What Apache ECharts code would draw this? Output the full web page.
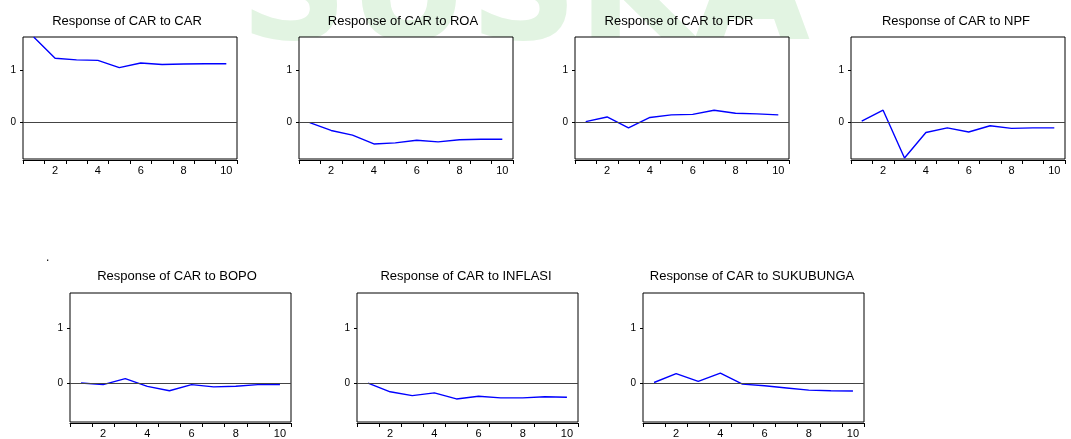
<!DOCTYPE html>
<html>
<head>
<meta charset="utf-8">
<script src="https://cdn.jsdelivr.net/npm/echarts@6/dist/echarts.min.js"></script>
<style>
  html, body { margin: 0; padding: 0; background: #fff; }
  #chart { width: 1071px; height: 439px; }
</style>
</head>
<body>
<div id="chart"></div>
<script>
// impulse response periods
const periods = ['1', '2', '3', '4', '5', '6', '7', '8', '9', '10'];
const yTicks = [0, 1];

const carToCar = [1.65, 1.24, 1.21, 1.20, 1.06, 1.15, 1.12, 1.13, 1.135, 1.135];
const carToRoa = [0.0, -0.15, -0.24, -0.41, -0.39, -0.34, -0.37, -0.33, -0.32, -0.32];
const carToFdr = [0.02, 0.11, -0.10, 0.10, 0.15, 0.16, 0.24, 0.18, 0.17, 0.15];
const carToNpf = [0.03, 0.24, -0.68, -0.19, -0.10, -0.18, -0.06, -0.11, -0.10, -0.10];
const carToBopo = [0.01, -0.02, 0.09, -0.05, -0.13, -0.02, -0.06, -0.05, -0.02, -0.02];
const carToInflasi = [0.01, -0.15, -0.22, -0.17, -0.28, -0.23, -0.26, -0.26, -0.24, -0.25];
const carToSukubunga = [0.02, 0.18, 0.04, 0.19, -0.01, -0.04, -0.08, -0.12, -0.13, -0.135];

const panels = [
  { title: 'Response of CAR to CAR', data: carToCar, left: 23, top: 37, w: 214, h: 122, tx: 127, ty: 15 },
  { title: 'Response of CAR to ROA', data: carToRoa, left: 299, top: 37, w: 214, h: 122, tx: 403, ty: 15 },
  { title: 'Response of CAR to FDR', data: carToFdr, left: 575, top: 37, w: 214, h: 122, tx: 679, ty: 15 },
  { title: 'Response of CAR to NPF', data: carToNpf, left: 851, top: 37, w: 214, h: 122, tx: 956, ty: 15 },
  { title: 'Response of CAR to BOPO', data: carToBopo, left: 70, top: 293, w: 221, h: 129, tx: 177, ty: 270 },
  { title: 'Response of CAR to INFLASI', data: carToInflasi, left: 357, top: 293, w: 221, h: 129, tx: 466, ty: 270 },
  { title: 'Response of CAR to SUKUBUNGA', data: carToSukubunga, left: 643, top: 293, w: 221, h: 129, tx: 752, ty: 270 }
];

const font = '"Liberation Sans", Arial, sans-serif';

const option = {
  animation: false,
  backgroundColor: '#fff',
  graphic: [
    // faint watermark behind the panels
    { type: 'text', z: -10, left: 240, top: -75,
      style: { text: 'SUSKA', font: 'bold 150px "DejaVu Sans"', fill: '#e2f4e2' } },
    { type: 'text', left: 46, top: 252,
      style: { text: '.', font: '12px ' + font, fill: '#000' } }
  ],
  title: [],
  grid: [],
  xAxis: [],
  yAxis: [],
  series: []
};

panels.forEach((p, i) => {
  option.title.push({
    text: p.title,
    left: p.tx,
    top: p.ty,
    textAlign: 'center',
    padding: 0,
    textStyle: { fontFamily: font, fontSize: 13, fontWeight: 'normal', color: '#000' }
  });
  option.grid.push({
    left: p.left, top: p.top, width: p.w, height: p.h,
    show: true, backgroundColor: '#fff', borderColor: '#000', borderWidth: 1,
    containLabel: false
  });
  option.xAxis.push({
    type: 'category',
    gridIndex: i,
    data: periods,
    boundaryGap: true,
    position: 'bottom',
    offset: 1,
    axisLine: { show: true, onZero: false, lineStyle: { color: '#000', width: 1 } },
    axisTick: { show: true, interval: 0, length: 4, lineStyle: { color: '#000' } },
    axisLabel: {
      interval: (idx) => idx % 2 === 1,
      fontFamily: font, fontSize: 11, color: '#000', margin: 5
    },
    splitLine: { show: false }
  });
  option.yAxis.push({
    type: 'value',
    gridIndex: i,
    min: -0.7,
    max: 1.65,
    axisLine: { show: false },
    axisTick: { show: true, length: 3, customValues: yTicks, lineStyle: { color: '#000' } },
    axisLabel: { customValues: yTicks, fontFamily: font, fontSize: 10, color: '#000', margin: 7 },
    splitLine: { show: false }
  });
  option.series.push({
    type: 'line',
    xAxisIndex: i,
    yAxisIndex: i,
    data: p.data,
    symbol: 'none',
    lineStyle: { color: '#0000ff', width: 1.4 },
    markLine: {
      silent: true,
      symbol: 'none',
      label: { show: false },
      lineStyle: { color: '#444', width: 1, type: 'solid' },
      data: [{ yAxis: 0 }]
    }
  });
});

const chart = echarts.init(document.getElementById('chart'));
chart.setOption(option);
</script>
</body>
</html>
